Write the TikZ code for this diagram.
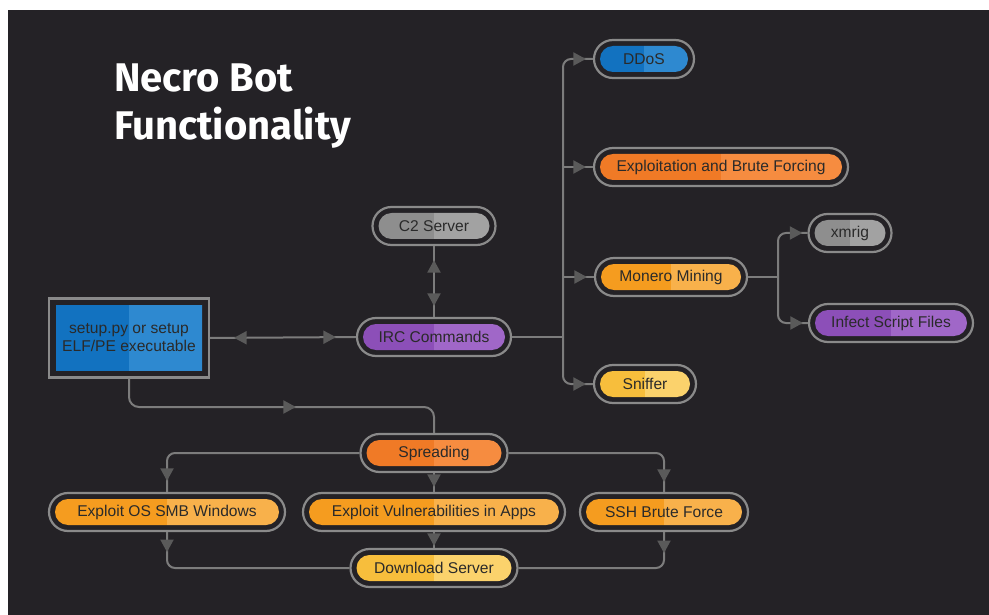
\documentclass[tikz,border=0pt]{standalone}
\usepackage{fontspec}
\setmainfont{Liberation Sans}
\newfontfamily\titlefont{Fira Sans}
\usetikzlibrary{shapes.misc,decorations.markings,arrows.meta}
\definecolor{bgc}{HTML}{242226}
\definecolor{ringc}{HTML}{8A8A8A}
\definecolor{linec}{HTML}{7C7C7C}
\definecolor{arrc}{HTML}{5A5A5A}
\definecolor{txtc}{HTML}{2A2A2A}
\definecolor{bL}{HTML}{1272C0}\definecolor{bR}{HTML}{2E89D0}
\definecolor{oL}{HTML}{F07A26}\definecolor{oR}{HTML}{F68C40}
\definecolor{aL}{HTML}{F59C1F}\definecolor{aR}{HTML}{F8B14B}
\definecolor{yL}{HTML}{F7BE3C}\definecolor{yR}{HTML}{FBD26C}
\definecolor{pL}{HTML}{8C4FB8}\definecolor{pR}{HTML}{A067C8}
\definecolor{gL}{HTML}{8E8E8E}\definecolor{gR}{HTML}{A2A2A2}
\newcommand\nfont{\fontsize{15.6}{18}\selectfont}
\tikzset{
  myarr/.tip={Triangle[length=12.5pt,width=13pt,color=arrc]},
  pill/.style 2 args={shape=rounded rectangle, draw=ringc, line width=2.2pt, fill=bgc,
    minimum height=38pt, inner xsep=0pt, inner ysep=0pt, text=txtc, font=\nfont,
    path picture={
      \path (path picture bounding box.south west) coordinate (ppsw)
            (path picture bounding box.north east) coordinate (ppne)
            (path picture bounding box.center) coordinate (ppc);
      \clip[rounded corners=13pt] ([shift={(6pt,6pt)}]ppsw) rectangle ([shift={(-6pt,-6pt)}]ppne);
      \fill[#1] (ppsw) rectangle (ppc |- ppne);
      \fill[#2] (ppc |- ppsw) rectangle (ppne);
    }},
  boxnode/.style={shape=rectangle, draw=ringc, line width=2.2pt, fill=bgc,
    inner sep=0pt, align=center, text=txtc, font=\nfont,
    path picture={
      \path (path picture bounding box.south west) coordinate (ppsw)
            (path picture bounding box.north east) coordinate (ppne)
            (path picture bounding box.center) coordinate (ppc);
      \clip ([shift={(7pt,7pt)}]ppsw) rectangle ([shift={(-7pt,-7pt)}]ppne);
      \fill[bL] (ppsw) rectangle (ppc |- ppne);
      \fill[bR] (ppc |- ppsw) rectangle (ppne);
    }},
  conn/.style={draw=linec, line width=2pt},
  fw/.style={postaction={decorate,decoration={markings,mark=at position #1 with {\arrow{myarr}}}}},
  bw/.style={postaction={decorate,decoration={markings,mark=at position #1 with {\arrowreversed{myarr}}}}},
  ttl/.style={anchor=base west, text=white, inner sep=0pt, font=\titlefont\bfseries\fontsize{40}{48}\selectfont}
}
\begin{document}
\begin{tikzpicture}[x=1pt,y=-1pt]
\useasboundingbox (0,0) rectangle (989,615);
\fill[white] (0,0) rectangle (989,615);
\fill[bgc] (8,10) rectangle (989,615);

\node[ttl] (t1) at (114,92) {Necro Bot};
\node[ttl] (t2) at (114,140) {Functionality};

\node[pill={bL}{bR}, minimum width=100pt] (ddos) at (644,59) {DDoS};
\node[pill={oL}{oR}, minimum width=254pt] (expl) at (721,167) {Exploitation and Brute Forcing};
\node[pill={aL}{aR}, minimum width=152pt] (mon) at (671,277) {Monero Mining};
\node[pill={yL}{yR}, minimum width=102pt] (sniff) at (645,384) {Sniffer};
\node[pill={gL}{gR}, minimum width=83pt] (xmrig) at (850,233) {xmrig};
\node[pill={pL}{pR}, minimum width=164pt] (infect) at (891,323) {Infect Script Files};
\node[pill={gL}{gR}, minimum width=123pt] (c2) at (434,226) {C2 Server};
\node[pill={pL}{pR}, minimum width=154pt] (irc) at (434,337) {IRC Commands};
\node[boxnode, minimum width=160pt, minimum height=79pt] (setup) at (129,338) {setup.py or setup\\ELF/PE executable};
\node[pill={oL}{oR}, minimum width=147pt] (spread) at (434,453) {Spreading};
\node[pill={aL}{aR}, minimum width=236pt] (exos) at (167,512) {Exploit OS SMB Windows};
\node[pill={aL}{aR}, minimum width=262pt] (vuln) at (434,512) {Exploit Vulnerabilities in Apps};
\node[pill={aL}{aR}, minimum width=168pt] (ssh) at (664,512) {SSH Brute Force};
\node[pill={yL}{yR}, minimum width=167pt] (dl) at (434,568) {Download Server};

\draw[conn, bw=24pt, fw=-20pt] (setup.east) -- (irc.west);
\draw[conn, bw=14pt, fw=-11pt] (c2.south) -- (irc.north);
\coordinate (bus) at (563,337);
\draw[conn] (irc.east) -- (bus);
\draw[conn, rounded corners=8pt, fw=-7pt] (bus) |- (ddos.west);
\draw[conn, fw=-7pt] (bus) |- (expl.west);
\draw[conn, fw=-7pt] (bus) |- (mon.west);
\draw[conn, rounded corners=8pt, fw=-7pt] (bus) |- (sniff.west);
\coordinate (mbus) at (778,277);
\draw[conn] (mon.east) -- (mbus);
\draw[conn, rounded corners=8pt, fw=-5pt] (mbus) |- (xmrig.west);
\draw[conn, rounded corners=8pt, fw=-5pt] (mbus) |- (infect.west);
\coordinate (sj) at (434,407);
\draw[conn, rounded corners=10pt, fw=191pt] (setup.south) |- (sj) -- (spread.north);
\draw[conn, rounded corners=8pt, fw=-11pt] (spread.west) -| (exos.north);
\draw[conn, fw=-5pt] (spread.south) -- (vuln.north);
\draw[conn, rounded corners=8pt, fw=-10pt] (spread.east) -| (ssh.north);
\draw[conn, rounded corners=8pt, fw=20pt] (exos.south) |- (dl.west);
\draw[conn, fw=-2pt] (vuln.south) -- (dl.north);
\draw[conn, rounded corners=8pt, fw=21pt] (ssh.south) |- (dl.east);
\end{tikzpicture}
\end{document}
